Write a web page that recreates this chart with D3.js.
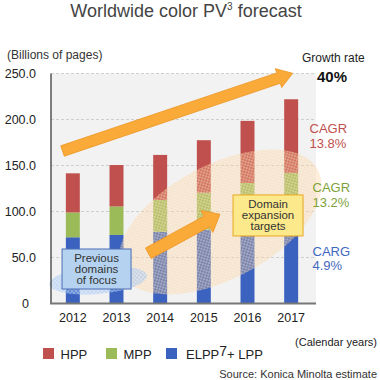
<!DOCTYPE html>
<html><head><meta charset="utf-8">
<script src="https://cdn.jsdelivr.net/npm/d3@7/dist/d3.min.js"></script>
<style>
html,body{margin:0;padding:0;background:#fff;}
svg{display:block;font-family:"Liberation Sans",Arial,sans-serif;}
</style></head>
<body>
<svg id="c" width="380" height="380"></svg>
<script>
const years = ["2012","2013","2014","2015","2016","2017"];
const elpp = [72, 74.5, 78, 80, 82, 86];
const mpp  = [27, 31, 34.5, 40.5, 49, 56];
const hpp  = [42.5, 45, 49, 57, 67.5, 80];
const yTicks = [0, 50, 100, 150, 200, 250];
const seriesNames = ["HPP", "MPP", "ELPP"];
const seriesColors = ["#C0504D", "#9BBB59", "#3A62BE"];

const svg = d3.select("#c");
const x = d3.scaleBand().domain(years).range([51, 313]).paddingInner(0.68).paddingOuter(0.34);
const y = d3.scaleLinear().domain([0, 250]).range([303.5, 73.5]);
const step = x.step();
const xAt = i => x(years[0]) + x.bandwidth() / 2 + i * step;

// plot background
svg.append("rect").attr("x", 51).attr("y", y(250)).attr("width", 265).attr("height", y(0) - y(250)).attr("fill", "#F2F2F2");

// gridlines
svg.append("g").selectAll("line").data(yTicks.filter(d => d > 0)).join("line")
  .attr("x1", 51).attr("x2", 316).attr("y1", d => y(d)).attr("y2", d => y(d))
  .attr("stroke", "#CFCFCF").attr("stroke-dasharray", "3,2").attr("stroke-width", 1);

// stacked bars
const rows = years.map((yr, i) => ({year: yr, ELPP: elpp[i], MPP: mpp[i], HPP: hpp[i]}));
const stack = d3.stack().keys(["ELPP", "MPP", "HPP"])(rows);
const colorOf = {HPP: seriesColors[0], MPP: seriesColors[1], ELPP: seriesColors[2]};
svg.append("g").selectAll("g").data(stack).join("g").attr("fill", d => colorOf[d.key])
  .selectAll("rect").data(d => d).join("rect")
  .attr("x", d => x(d.data.year)).attr("width", x.bandwidth())
  .attr("y", d => y(d[1])).attr("height", d => y(d[0]) - y(d[1]));

// patterns
const defs = svg.append("defs");
const po = defs.append("pattern").attr("id", "po").attr("patternUnits", "userSpaceOnUse").attr("width", 4).attr("height", 4);
po.append("rect").attr("width", 4).attr("height", 4).attr("fill", "rgba(252,196,128,0.33)");
po.append("circle").attr("cx", 1).attr("cy", 1).attr("r", 0.9).attr("fill", "rgba(255,255,255,0.45)");
po.append("circle").attr("cx", 3).attr("cy", 3).attr("r", 0.9).attr("fill", "rgba(255,255,255,0.45)");
const pb = defs.append("pattern").attr("id", "pb").attr("patternUnits", "userSpaceOnUse").attr("width", 4).attr("height", 4);
pb.append("rect").attr("width", 4).attr("height", 4).attr("fill", "rgba(140,185,240,0.45)");
pb.append("circle").attr("cx", 1).attr("cy", 1).attr("r", 0.9).attr("fill", "rgba(255,255,255,0.5)");
pb.append("circle").attr("cx", 3).attr("cy", 3).attr("r", 0.9).attr("fill", "rgba(255,255,255,0.5)");

// ellipses (annotation positions in data units: band index, value)
const ellipses = [
  {i: 3.371, v: 88.6, rx: 111, ry: 57, rot: -28, fill: "url(#po)"},
  {i: 0.577, v: 25.5, rx: 49, ry: 14, rot: -5, fill: "url(#pb)"}
];
svg.append("g").selectAll("ellipse").data(ellipses).join("ellipse")
  .attr("cx", 0).attr("cy", 0).attr("rx", d => d.rx).attr("ry", d => d.ry)
  .attr("transform", d => `translate(${xAt(d.i)},${y(d.v)}) rotate(${d.rot})`)
  .attr("fill", d => d.fill);

// arrows
const arrows = [
  {i0: -0.236, v0: 165.8, i1: 5.035, v1: 250.2, w: 11, hl: 15, hw: 20},
  {i0: 1.729, v0: 54.6, i1: 3.371, v1: 97.0, w: 12, hl: 15, hw: 25}
];
function arrowPath(a) {
  const x0 = xAt(a.i0), y0 = y(a.v0), x1 = xAt(a.i1), y1 = y(a.v1);
  const L = Math.hypot(x1 - x0, y1 - y0), ux = (x1 - x0) / L, uy = (y1 - y0) / L;
  const nx = -uy, ny = ux;
  const bx = x1 - ux * a.hl, by = y1 - uy * a.hl;
  const p = [
    [x0 + nx * a.w / 2, y0 + ny * a.w / 2],
    [bx + nx * a.w / 2, by + ny * a.w / 2],
    [bx + nx * a.hw / 2, by + ny * a.hw / 2],
    [x1, y1],
    [bx - nx * a.hw / 2, by - ny * a.hw / 2],
    [bx - nx * a.w / 2, by - ny * a.w / 2],
    [x0 - nx * a.w / 2, y0 - ny * a.w / 2]
  ];
  return "M" + p.map(q => q.join(",")).join("L") + "Z";
}
svg.append("g").selectAll("path").data(arrows).join("path")
  .attr("d", arrowPath).attr("fill", "#F9AA38").attr("stroke", "#EE9422").attr("stroke-width", 0.8);

// boxes
const boxes = [
  {i: 0.543, v: 37.5, w: 69, h: 40, fill: "#B5D3F0", stroke: "#4C6DB3", lines: ["Previous", "domains", "of focus"]},
  {i: 4.47, v: 95.7, w: 70, h: 41, fill: "#FCE98C", stroke: "#E8A820", lines: ["Domain", "expansion", "targets"]}
];
const bg = svg.append("g").selectAll("g").data(boxes).join("g")
  .attr("transform", d => `translate(${xAt(d.i)},${y(d.v)})`);
bg.append("rect").attr("x", d => -d.w / 2).attr("y", d => -d.h / 2).attr("width", d => d.w).attr("height", d => d.h)
  .attr("fill", d => d.fill).attr("stroke", d => d.stroke).attr("stroke-width", 1);
bg.each(function(d) {
  const t = d3.select(this).append("text").attr("text-anchor", "middle").attr("font-size", 11.5).attr("fill", "#333");
  d.lines.forEach((ln, k) => t.append("tspan").attr("x", 0).attr("y", -7 + k * 10.8).text(ln));
});

// axes
svg.append("line").attr("x1", 51).attr("x2", 51).attr("y1", y(250)).attr("y2", y(0)).attr("stroke", "#555").attr("stroke-width", 1.5);
svg.append("line").attr("x1", 50).attr("x2", 316).attr("y1", y(0)).attr("y2", y(0)).attr("stroke", "#777").attr("stroke-width", 2);

const ya = svg.append("g").attr("transform", "translate(36,0)")
  .call(d3.axisLeft(y).tickValues(yTicks).tickSize(0).tickPadding(0).tickFormat(d => d === 0 ? "0" : d3.format(".1f")(d)));
ya.select(".domain").remove();
ya.selectAll("text").attr("font-size", 12.5).attr("fill", "#222").attr("font-family", "'Liberation Sans',Arial,sans-serif")
  .attr("x", d => d === 0 ? -7 : 0);

const xa = svg.append("g").attr("transform", `translate(0,${y(0)})`)
  .call(d3.axisBottom(x).tickSize(0).tickPadding(10));
xa.select(".domain").remove();
xa.selectAll("text").attr("font-size", 12.5).attr("fill", "#222").attr("font-family", "'Liberation Sans',Arial,sans-serif");

// title
const title = svg.append("text").attr("x", 186).attr("y", 16.5).attr("text-anchor", "middle")
  .attr("font-size", 18).attr("fill", "#444");
title.append("tspan").text("Worldwide color PV");
title.append("tspan").attr("font-size", 10).attr("dy", -7).text("3");
title.append("tspan").attr("dy", 7).text(" forecast");

svg.append("text").attr("x", 7).attr("y", 59).attr("font-size", 12).attr("fill", "#333").text("(Billions of pages)");
svg.append("text").attr("x", 302).attr("y", 62).attr("font-size", 12).attr("fill", "#222").text("Growth rate");
svg.append("text").attr("x", 317).attr("y", 82).attr("font-size", 15).attr("font-weight", "bold").attr("fill", "#111").text("40%");

const cagr = [
  {x: 309.5, y: 133, c: "#C0504D", a: "CAGR", b: "13.8%"},
  {x: 312.5, y: 192, c: "#7EA23A", a: "CAGR", b: "13.2%"},
  {x: 312.5, y: 255.5, c: "#3F68BE", a: "CARG", b: "4.9%"}
];
cagr.forEach(d => {
  const t = svg.append("text").attr("font-size", 13).attr("fill", d.c);
  t.append("tspan").attr("x", d.x).attr("y", d.y).text(d.a);
  t.append("tspan").attr("x", d.x).attr("y", d.y + 14.5).text(d.b);
});

svg.append("text").attr("x", 377).attr("y", 346).attr("text-anchor", "end").attr("font-size", 11).attr("fill", "#222").text("(Calendar years)");
svg.append("text").attr("x", 377).attr("y", 378).attr("text-anchor", "end").attr("font-size", 11).attr("fill", "#333").text("Source: Konica Minolta estimate");

// legend
const legendX = [43, 106, 166];
const lg = svg.append("g").selectAll("g").data(seriesNames).join("g")
  .attr("transform", (d, i) => `translate(${legendX[i]},348)`);
lg.append("rect").attr("width", 11).attr("height", 11).attr("fill", (d, i) => seriesColors[i]);
lg.each(function(d) {
  const t = d3.select(this).append("text").attr("x", d === "ELPP" ? 20 : 17.5).attr("y", 11).attr("font-size", 13).attr("fill", "#222");
  if (d === "ELPP") {
    t.append("tspan").text("ELPP");
    t.append("tspan").attr("dy", -3).attr("font-size", 14).text("7");
    t.append("tspan").attr("dy", 3).text("+ LPP");
  } else t.text(d);
});
</script>
</body></html>
